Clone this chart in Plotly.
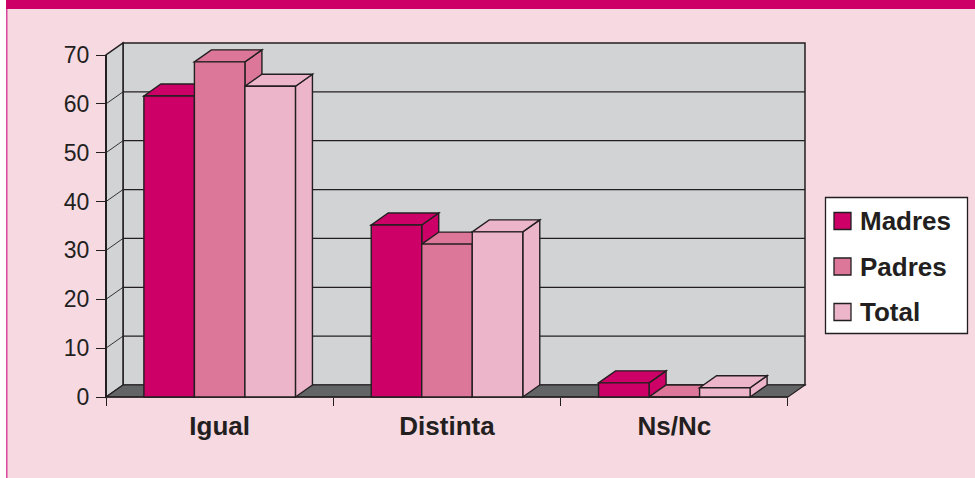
import plotly.graph_objects as go

categories = ["Igual", "Distinta", "Ns/Nc"]
series_names = ["Madres", "Padres", "Total"]
madres = [61.6, 35.2, 2.9]
padres = [68.6, 31.3, 0]
total = [63.6, 33.8, 1.9]
y_ticks = [0, 10, 20, 30, 40, 50, 60, 70]

W, H = 975, 478
INK = "#231F20"
WALL = "#D1D3D4"
FLOOR = "#636466"
COLORS = ["#CC0066", "#DD7799", "#EDB5C9"]
FONT = "Liberation Sans"

# pixel geometry of the frame
X0_PX, CAT_PX = 106, 227.33
Y0_PX, UNIT_PX = 397, 342 / 70
DX = 17 / CAT_PX
DY = 12 / UNIT_PX
N = len(categories)
YMAX = y_ticks[-1]
BAR_W = (2 / 3) / len(series_names)


def px(x):
    return x / W


def py(y):
    return 1 - y / H


def poly(points, fill, width=1.4, color=INK):
    path = "M" + " L".join(f"{a},{b}" for a, b in points) + " Z"
    return dict(type="path", path=path, xref="x", yref="y", fillcolor=fill,
                line=dict(color=color, width=width), layer="below")


def seg(x0, y0, x1, y1, width=1.2):
    return dict(type="line", x0=x0, y0=y0, x1=x1, y1=y1, xref="x", yref="y",
                line=dict(color=INK, width=width), layer="below")


def page_rect(x0, y0, x1, y1, fill, line=None, layer="below"):
    return dict(type="rect", xref="paper", yref="paper", x0=px(x0), x1=px(x1),
                y0=py(y0), y1=py(y1), fillcolor=fill, layer=layer,
                line=dict(color=line or fill, width=1.3 if line else 0))


shapes = [
    page_rect(6, 0, W, H, "#F6D9E1"),
    page_rect(6, 0, 7.5, H, "#D9489A"),
    page_rect(6, 0, W, 9, "#CC0066"),
]

# walls and floor
shapes.append(poly([(DX, DY), (N + DX, DY), (N + DX, YMAX + DY), (DX, YMAX + DY)], WALL, width=1.5))
shapes.append(poly([(0, 0), (DX, DY), (DX, YMAX + DY), (0, YMAX)], WALL, width=1.5))
shapes.append(poly([(0, 0), (N, 0), (N + DX, DY), (DX, DY)], FLOOR, width=1.1))
for v in y_ticks[1:-1]:
    shapes.append(seg(DX, v + DY, N + DX, v + DY, 1.2))
    shapes.append(seg(0, v, DX, v + DY, 0.9))
shapes.append(seg(0, 0, 0, YMAX, 2))
shapes.append(seg(0, 0, N, 0, 1.4))

# top and side faces of each bar, left to right
for i in range(N):
    for k, vals in enumerate([madres, padres, total]):
        v = vals[i]
        x_l = i + 0.5 - 1 / 3 + k * BAR_W
        x_r = x_l + BAR_W
        shapes.append(poly([(x_r, 0), (x_r + DX, DY), (x_r + DX, v + DY), (x_r, v)], COLORS[k]))
        shapes.append(poly([(x_l, v), (x_r, v), (x_r + DX, v + DY), (x_l + DX, v + DY)], COLORS[k]))

# legend
shapes.append(page_rect(825.5, 197.5, 967.5, 333.5, "#FFFFFF", line=INK, layer="above"))
legend_rows = [221, 266.5, 312]
annotations = []
for name, color, row in zip(series_names, COLORS, legend_rows):
    shapes.append(page_rect(834, row - 8.5, 851, row + 8.5, color, line=INK, layer="above"))
    annotations.append(dict(
        text=name, x=px(857.5), y=py(row), xref="paper", yref="paper", xanchor="left",
        yanchor="middle", showarrow=False,
        font=dict(family=FONT, size=26, color=INK, weight="bold"),
    ))

cat_pos = [i + 0.5 for i in range(N)]
fig = go.Figure()
for name, vals, color in zip(series_names, [madres, padres, total], COLORS):
    fig.add_bar(x=cat_pos, y=vals, name=name, showlegend=False,
                marker=dict(color=color, line=dict(color=INK, width=1.4)))

fig.update_layout(
    width=W, height=H, autosize=False,
    margin=dict(l=0, r=0, t=0, b=0, pad=0, autoexpand=False),
    paper_bgcolor="#FFFFFF", plot_bgcolor="rgba(0,0,0,0)",
    barmode="group", bargap=1 / 3, bargroupgap=0,
    shapes=shapes, annotations=annotations, showlegend=False,
    xaxis=dict(
        domain=[px(100), px(812)],
        range=[(100 - X0_PX) / CAT_PX, (812 - X0_PX) / CAT_PX],
        anchor="free", position=py(Y0_PX),
        tickmode="array", tickvals=cat_pos, ticktext=categories,
        ticks="outside", ticklen=6, tickcolor="rgba(0,0,0,0)",
        tickfont=dict(family=FONT, size=26, color=INK, weight="bold"),
        minor=dict(tickmode="array", tickvals=list(range(N + 1)), ticks="outside",
                   ticklen=8, tickcolor=INK, tickwidth=1, showgrid=False),
        showgrid=False, zeroline=False, showline=False, automargin=False,
    ),
    yaxis=dict(
        domain=[py(403), py(38)],
        range=[(Y0_PX - 403) / UNIT_PX, (Y0_PX - 38) / UNIT_PX],
        anchor="free", position=px(X0_PX),
        tickmode="array", tickvals=y_ticks,
        ticks="outside", ticklen=10, tickcolor=INK, tickwidth=1,
        ticklabelstandoff=2,
        tickfont=dict(family=FONT, size=23, color=INK),
        showgrid=False, zeroline=False, showline=False, automargin=False,
    ),
)

fig.write_html("out.html",
               config={"responsive": False, "displayModeBar": False},
               post_script="document.body.style.margin='0';")
